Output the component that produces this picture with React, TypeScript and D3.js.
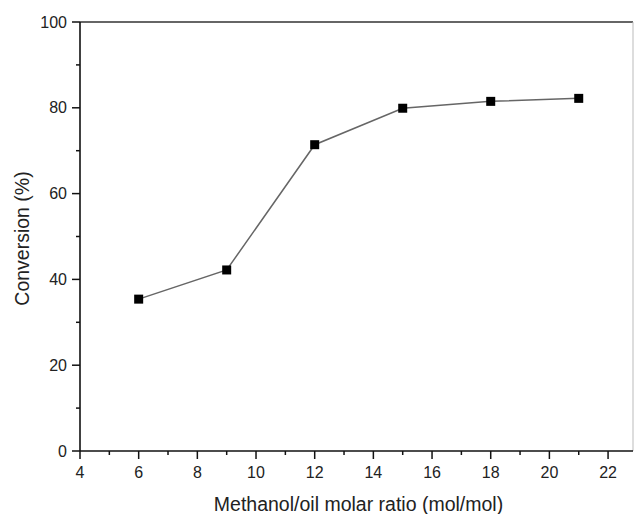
import * as d3 from "d3";

const ratios = [6, 9, 12, 15, 18, 21];
const conversion = [35.4, 42.2, 71.4, 79.9, 81.5, 82.2];
const xTicks = [4, 6, 8, 10, 12, 14, 16, 18, 20, 22];
const yTicks = [0, 20, 40, 60, 80, 100];

const App = () => {
  const width = 636,
    height = 514;
  const MARGIN = { top: 22, right: 3, bottom: 63, left: 80 };
  const innerW = width - MARGIN.left - MARGIN.right;
  const innerH = height - MARGIN.top - MARGIN.bottom;
  const font = "Liberation Sans, Arial, sans-serif";

  const xScale = d3.scaleLinear().domain([4, 22.85]).range([0, innerW]);
  const yScale = d3.scaleLinear().domain([0, 100]).range([innerH, 0]);

  const points = ratios.map((r, i) => [r, conversion[i]] as [number, number]);
  const line = d3
    .line<[number, number]>()
    .x((d) => xScale(d[0]))
    .y((d) => yScale(d[1]));

  const xMinor = d3.range(5, 23, 2);
  const yMinor = d3.range(10, 100, 20);

  return (
    <svg
      width={width}
      height={height}
      style={{ position: "absolute", left: 0, top: 0, background: "#fff" }}
    >
      <g transform={`translate(${MARGIN.left},${MARGIN.top})`}>
        {/* frame */}
        <line x1={0} x2={innerW} y1={0} y2={0} stroke="#333" strokeWidth={1.5} />
        <line x1={innerW} x2={innerW} y1={0} y2={innerH} stroke="#bbb" strokeWidth={1} />
        <line x1={0} x2={innerW} y1={innerH} y2={innerH} stroke="#111" strokeWidth={1.6} />
        <line x1={0} x2={0} y1={0} y2={innerH} stroke="#111" strokeWidth={1.6} />

        {/* x ticks */}
        {xTicks.map((t) => (
          <g key={"x" + t}>
            <line x1={xScale(t)} x2={xScale(t)} y1={innerH} y2={innerH + 8} stroke="#111" strokeWidth={1.5} />
            <text
              x={xScale(t)}
              y={innerH + 27}
              textAnchor="middle"
              fontSize={16}
              fontFamily={font}
              fill="#222"
            >
              {t}
            </text>
          </g>
        ))}
        {xMinor.map((t) => (
          <line key={"xm" + t} x1={xScale(t)} x2={xScale(t)} y1={innerH} y2={innerH + 4} stroke="#111" strokeWidth={1.5} />
        ))}

        {/* y ticks */}
        {yTicks.map((t) => (
          <g key={"y" + t}>
            <line x1={-8} x2={0} y1={yScale(t)} y2={yScale(t)} stroke="#111" strokeWidth={1.5} />
            <text
              x={-13}
              y={yScale(t) + 5.5}
              textAnchor="end"
              fontSize={16}
              fontFamily={font}
              fill="#222"
            >
              {t}
            </text>
          </g>
        ))}
        {yMinor.map((t) => (
          <line key={"ym" + t} x1={-4} x2={0} y1={yScale(t)} y2={yScale(t)} stroke="#111" strokeWidth={1.5} />
        ))}

        {/* series */}
        <path d={line(points) || ""} fill="none" stroke="#666" strokeWidth={1.5} />
        {points.map((d, i) => (
          <rect
            key={i}
            x={xScale(d[0]) - 4.5}
            y={yScale(d[1]) - 4.5}
            width={9}
            height={9}
            fill="#000"
          />
        ))}

        {/* axis labels */}
        <text
          x={innerW / 2 + 2}
          y={innerH + 60}
          textAnchor="middle"
          fontSize={19.5}
          fontFamily={font}
          fill="#222"
        >
          Methanol/oil molar ratio (mol/mol)
        </text>
        <text
          transform={`translate(${-51},${innerH / 2 + 2}) rotate(-90)`}
          textAnchor="middle"
          fontSize={19.5}
          fontFamily={font}
          fill="#222"
        >
          Conversion (%)
        </text>
      </g>
    </svg>
  );
};

export default App;
